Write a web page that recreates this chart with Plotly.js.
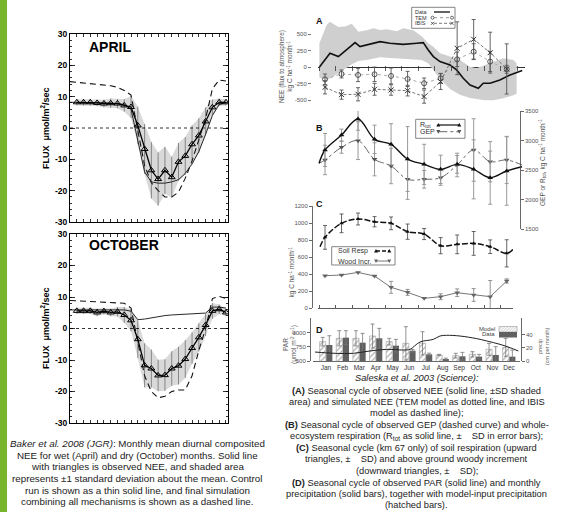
<!DOCTYPE html>
<html><head><meta charset="utf-8">
<script src="https://cdn.plot.ly/plotly-3.0.1.min.js"></script>
<style>html,body{margin:0;padding:0;background:#fff;}#chart{width:563px;height:512px;}</style>
</head><body><div id="chart"></div>
<script>
// ================= DATA =================
// Left panels (Baker et al. 2008): diurnal composite, hour of day
const obsHours   = [1,2,3,4,5,6,7,8,9,10,11,12,13,14,15,16,17,18,19,20,21,22,23];
const modelHours = [0,1,2,3,4,5,6,7,8,9,10,11,12,13,14,15,16,17,18,19,20,21,22,23];
const aprilObs     = [8.2,8.2,8.2,8.0,7.8,7.9,7.8,7.2,6.7,0.8,-6.7,-13.5,-16.3,-13.5,-15.7,-10.8,-8.9,-5.2,-2.4,2.1,6.6,8.2,8.2];
const aprilSd      = [1,1,1,1,1.2,1.5,1.5,2,3.5,6,8,9,8.5,7.5,6.5,6,6,6,5.5,4.5,2.5,1.2,1];
const aprilControl = [8.2,8.2,8.2,8.2,8.1,8.0,8.0,7.8,7.5,6.0,-4,-14,-17.2,-17.6,-17.6,-17.2,-16.5,-14.5,-11.5,-7.5,-2,4,7.5,8.2];
const aprilFinal   = [14.8,14.6,14.4,14.2,14.0,13.8,13.5,13.0,12.0,10.5,-1,-12,-17.5,-20,-22,-22,-20.5,-16,-10.5,-4,3,12.5,15.3,15.0];
const octObs       = [5.6,5.6,5.6,5.1,5.5,5.1,5.3,4.3,2.6,-3.4,-11.7,-12.7,-14.9,-14.8,-12.7,-11.8,-9.7,-6.2,-2.8,1.1,5.6,6.1,5.1];
const octSd        = [1,1,1,1.2,1,1.2,1.5,2.5,3.5,6,7,6,5,5,5.5,6,6,5,4.5,3.5,2.5,1.5,1.2];
const octControl   = [5.9,5.9,5.9,5.9,5.9,5.9,5.9,5.9,5.9,5.5,2.8,3.0,3.4,3.8,4.1,4.3,4.4,4.5,4.6,4.7,4.9,6.8,6.8,6.5];
const octFinal     = [8.9,8.8,8.7,8.6,8.5,8.4,8.3,8.2,8.0,6.5,-4,-15,-20,-22,-21.5,-20,-19.5,-19.5,-15,-7,0,9.5,10.2,9.5];
const fluxTicks     = [-30,-20,-10,0,10,20,30];
const fluxTickText  = ['-30','-20','-10','0','10','20','30'];

// Right panels (Saleska et al. 2003): month of year
const months     = [1,2,3,4,5,6,7,8,9,10,11,12];
const monthNames = ['Jan','Feb','Mar','Apr','May','Jun','Jul','Aug','Sep','Oct','Nov','Dec'];
// (A) NEE
const neeX = [0.655,1.30,1.81,2.82,3.12,3.52,4.33,4.93,5.74,6.55,6.95,7.25,7.56,7.96,8.57,8.97,9.37,9.78,10.28,10.58,10.99,11.59,12.2,12.94];
const neeY = [0,212,162,374,313,338,389,364,348,364,374,263,162,86,35,-40,-167,-268,-318,-242,-242,-192,-116,-50];
const neeBandX     = [0.66,1.1,1.3,1.81,2.21,2.62,3.02,3.52,3.93,4.33,4.73,5.34,5.74,6.35,6.85,7.25,7.56,7.96,8.57,9.17,9.78,10.18,10.68,11.19,11.79,12.4,12.6];
const neeBandUpper = [364,640,690,610,620,660,540,560,590,566,576,545,590,560,470,364,313,212,162,111,10,-15,35,86,136,111,61];
const neeBandLower = [-160,-190,-170,-95,-25,45,95,111,130,151,145,136,130,121,112,60,-40,-175,-330,-415,-465,-485,-500,-500,-470,-425,-400];
const temY    = [-182,-101,-116,-106,-131,-177,-242,-167,121,237,86,-30];
const temErr  = [80,60,100,110,120,115,80,75,110,120,150,60];
const ibisY   = [-303,-414,-409,-333,-343,-354,-444,-217,288,424,222,-25];
const ibisErr = [100,70,100,90,80,80,100,120,400,300,310,380];
const neeTicks = [-500,-250,0,250,500];
const neeTickText = ['-500','-250','0','250','500'];
// (B) Rtot and GEP
const rtotY   = [2839,3093,3364,3020,2935,2686,2596,2511,2596,2511,2370,2483];
const rtotErr = [280,100,190,240,350,550,340,240,150,500,450,580];
const gepY    = [2670,2884,2997,2681,2568,2342,2342,2370,2585,2839,2641,2670];
const gepErr  = [250,100,320,280,300,340,150,130,200,530,340,400];
const bCurveStartX = 0.64, bCurveEndX = 12.93;
const rtotStart = 2613, rtotEnd = 2556, gepStart = 2613, gepEnd = 2585;
const bTicks = [1500,2000,2500,3000,3500];
// (C) soil respiration and wood increment
const soilY   = [831,996,1047,1015,996,898,870,733,749,760,721,643];
const soilErr = [140,110,70,60,75,90,65,95,110,140,80,160];
const soilStartX = 0.70, soilStart = 721, soilEndX = 12.38, soilEnd = 690;
const woodY   = [380,388,419,376,243,184,114,133,180,153,133,318];
const woodErr = [0,0,0,0,70,35,0,35,45,75,190,25];
const cTicks = [0,200,400,600,800,1000,1200];
// (D) bars (left axis) and line (right axis)
const modelBar = [838,897,897,937,838,809,809,605,593,617,704,739];
const modelErr = [75,133,133,210,58,291,203,11,41,46,104,157];
const dataBar  = [780,908,820,897,768,680,617,535,582,576,605,576];
const dataErr  = [162,122,163,174,110,20,20,15,69,40,145,116];
const parX = [0.34,1.54,2.64,3.64,4.65,5.65,6.05,6.65,7.45,7.85,8.25,9.05,10.06,10.66,11.46,12.06,12.56];
const parY = [13.8,11.8,11.8,15.4,17.9,16.9,18,29.2,33.3,38.4,39.5,38.4,34.4,30.8,25.6,20.5,15.4];
const dLeftTicks = [500,750,1000];
const dRightTicks = [0,20,40];

const leftCaption = [
  '<i>Baker et al. 2008 (JGR)</i>: Monthly mean diurnal composited',
  'NEE for wet (April) and dry (October) months. Solid line',
  'with triangles is observed NEE, and shaded area',
  'represents \u00b11 standard deviation about the mean. Control',
  'run is shown as a thin solid line, and final simulation',
  'combining all mechanisms is shown as a dashed line.'
];
const rightCaption = [
  '<i>Saleska et al. 2003 (Science):</i>',
  '<b>(A)</b> Seasonal cycle of observed NEE (solid line, \u00b1SD shaded',
  'area) and simulated NEE (TEM model as dotted line, and IBIS',
  'model as dashed line);',
  '<b>(B)</b> Seasonal cycle of observed GEP (dashed curve) and whole-',
  'ecosystem respiration (R<sub>tot</sub> as solid line, \u00b1\u00a0\u00a0\u00a0 SD in error bars);',
  '<b>(C)</b> Seasonal cycle (km 67 only) of soil respiration (upward',
  'triangles, \u00b1\u00a0\u00a0\u00a0 SD) and above ground woody increment',
  '(downward triangles, \u00b1\u00a0\u00a0\u00a0 SD);',
  '<b>(D)</b> Seasonal cycle of observed PAR (solid line) and monthly',
  'precipitation (solid bars), together with model-input precipitation',
  '(hatched bars).'
];

// ================= HELPERS =================
const W = 563, H = 512;
const FONT = 'Liberation Sans, Arial, Helvetica, sans-serif';
const fx = p => p / W;
const fy = p => 1 - p / H;
const dX = (a, b) => [fx(a), fx(b)];
const dY = (top, bot) => [fy(bot), fy(top)];

function lineS(x0, y0, x1, y1, color, width, dash) {
  return {type:'line', xref:'paper', yref:'paper', x0:fx(x0), y0:fy(y0), x1:fx(x1), y1:fy(y1),
          line:{color:color, width:width, dash:dash || 'solid'}};
}
function rectS(x0, y0, x1, y1, lc, lw, fill) {
  return {type:'rect', xref:'paper', yref:'paper', x0:fx(x0), y0:fy(y1), x1:fx(x1), y1:fy(y0),
          line:{color:lc, width:lw}, fillcolor: fill || 'rgba(0,0,0,0)'};
}
function circS(cx, cy, r, color) {
  return {type:'circle', xref:'paper', yref:'paper', x0:fx(cx-r), x1:fx(cx+r), y0:fy(cy+r), y1:fy(cy-r),
          line:{color:color, width:0.8}, fillcolor:'#fff'};
}
function crossS(cx, cy, r, color) {
  return [lineS(cx-r, cy-r, cx+r, cy+r, color, 0.8), lineS(cx-r, cy+r, cx+r, cy-r, color, 0.8)];
}
function triS(cx, cy, r, up, color) {
  const pts = up ? [[cx-r, cy+r*0.8], [cx+r, cy+r*0.8], [cx, cy-r]]
                 : [[cx-r, cy-r*0.8], [cx+r, cy-r*0.8], [cx, cy+r]];
  return {type:'path', xref:'paper', yref:'paper',
          path:'M' + pts.map(p => fx(p[0]) + ',' + fy(p[1])).join('L') + 'Z',
          fillcolor:color, line:{width:0}};
}
function txt(x, y, text, size, o) {
  o = o || {};
  return {xref:'paper', yref:'paper', x:fx(x), y:fy(y), text:text, showarrow:false,
          xanchor:o.xanchor || 'center', yanchor:o.yanchor || 'middle', textangle:o.angle || 0,
          align:o.align || 'center',
          font:{family:FONT, size:size, color:o.color || '#222', weight:o.weight || 'normal'}};
}

// ================= TRACES =================
const traces = [];
function leftPanel(xa, ya, obs, sd, control, finalSim) {
  const upper = obs.map((v, i) => v + sd[i]);
  const lower = obs.map((v, i) => v - sd[i]);
  traces.push({x:obsHours, y:lower, xaxis:xa, yaxis:ya, mode:'lines', line:{width:0, color:'rgba(0,0,0,0)'}});
  traces.push({x:obsHours, y:upper, xaxis:xa, yaxis:ya, mode:'lines', fill:'tonexty', fillcolor:'#d9d9d9',
               line:{width:0, color:'rgba(0,0,0,0)'}});
  traces.push({x:modelHours, y:control, xaxis:xa, yaxis:ya, mode:'lines', line:{color:'#111', width:0.9}});
  traces.push({x:modelHours, y:finalSim, xaxis:xa, yaxis:ya, mode:'lines', line:{color:'#111', width:1.1, dash:'6px,4px'}});
  traces.push({x:obsHours, y:obs, xaxis:xa, yaxis:ya, mode:'lines+markers',
               line:{color:'#000', width:1.3},
               marker:{symbol:'triangle-up-open', size:6, color:'#000', line:{width:1, color:'#000'}},
               error_y:{type:'data', array:sd, visible:true, color:'#333', thickness:0.5, width:0}});
}
leftPanel('x', 'y', aprilObs, aprilSd, aprilControl, aprilFinal);
leftPanel('x2', 'y2', octObs, octSd, octControl, octFinal);

// (A)
traces.push({x:neeBandX, y:neeBandLower, xaxis:'x3', yaxis:'y3', mode:'lines', line:{width:0, color:'rgba(0,0,0,0)'}});
traces.push({x:neeBandX, y:neeBandUpper, xaxis:'x3', yaxis:'y3', mode:'lines', fill:'tonexty', fillcolor:'#cfcfcf',
             line:{width:0, color:'rgba(0,0,0,0)'}});
traces.push({x:neeX, y:neeY, xaxis:'x3', yaxis:'y3', mode:'lines', line:{color:'#111', width:1.6}});
traces.push({x:months, y:temY, xaxis:'x3', yaxis:'y3', mode:'lines+markers', cliponaxis:false,
             line:{color:'#aaa', width:1, dash:'dot'},
             marker:{symbol:'circle-open', size:5, color:'#444', line:{width:0.9}},
             error_y:{type:'data', array:temErr, visible:true, color:'#555', thickness:0.9, width:2}});
traces.push({x:months, y:ibisY, xaxis:'x3', yaxis:'y3', mode:'lines+markers', cliponaxis:false,
             line:{color:'#555', width:0.8, dash:'3px,2px'},
             marker:{symbol:'x-thin', size:5, color:'#333', line:{width:1, color:'#333'}},
             error_y:{type:'data', array:ibisErr, visible:true, color:'#555', thickness:0.9, width:2}});

// (B)
traces.push({x:[bCurveStartX].concat(months, [bCurveEndX]), y:[gepStart].concat(gepY, [gepEnd]),
             xaxis:'x4', yaxis:'y4', mode:'lines', line:{color:'#666', width:1, dash:'dashdot', shape:'spline'}});
traces.push({x:[bCurveStartX].concat(months, [bCurveEndX]), y:[rtotStart].concat(rtotY, [rtotEnd]),
             xaxis:'x4', yaxis:'y4', mode:'lines', line:{color:'#111', width:1.4, shape:'spline'}});
traces.push({x:months, y:gepY, xaxis:'x4', yaxis:'y4', mode:'markers', cliponaxis:false,
             marker:{symbol:'triangle-down', size:5, color:'#555'},
             error_y:{type:'data', array:gepErr, visible:true, color:'#999', thickness:1, width:2}});
traces.push({x:months, y:rtotY, xaxis:'x4', yaxis:'y4', mode:'markers', cliponaxis:false,
             marker:{symbol:'triangle-up', size:5, color:'#111'},
             error_y:{type:'data', array:rtotErr, visible:true, color:'#999', thickness:1, width:2}});

// (C)
traces.push({x:[soilStartX].concat(months, [soilEndX]), y:[soilStart].concat(soilY, [soilEnd]),
             xaxis:'x5', yaxis:'y5', mode:'lines', line:{color:'#111', width:1.5, dash:'6px,2px', shape:'spline'}});
traces.push({x:months, y:soilY, xaxis:'x5', yaxis:'y5', mode:'markers', cliponaxis:false,
             marker:{symbol:'triangle-up', size:4, color:'#111'},
             error_y:{type:'data', array:soilErr, visible:true, color:'#555', thickness:0.9, width:2}});
traces.push({x:months, y:woodY, xaxis:'x5', yaxis:'y5', mode:'lines+markers', cliponaxis:false,
             line:{color:'#777', width:1},
             marker:{symbol:'triangle-down', size:5, color:'#666'},
             error_y:{type:'data', array:woodErr, visible:true, color:'#888', thickness:0.9, width:2}});

// (D)
traces.push({type:'bar', x:months, y:modelBar, xaxis:'x6', yaxis:'y6',
             marker:{color:'#fff', line:{color:'#999', width:0.6},
                     pattern:{shape:'/', fgcolor:'#999', bgcolor:'#fff', size:4, solidity:0.25}},
             error_y:{type:'data', array:modelErr, visible:true, color:'#777', thickness:0.8, width:2}});
traces.push({type:'bar', x:months, y:dataBar, xaxis:'x6', yaxis:'y6',
             marker:{color:'#606060', line:{width:0}},
             error_y:{type:'data', array:dataErr, visible:true, color:'#777', thickness:0.8, width:2}});
traces.push({x:parX, y:parY, xaxis:'x6', yaxis:'y7', mode:'lines', line:{color:'#222', width:1, shape:'spline'}});

traces.forEach(t => { t.showlegend = false; t.hoverinfo = 'skip'; });

// ================= LAYOUT =================
const tickFontL = {family:FONT, size:8.5, color:'#000', weight:'bold'};
const tickFontR = {family:FONT, size:6, color:'#555'};
function leftX(dom, anchor) {
  return {domain:dom, anchor:anchor, range:[0, 23.3], showline:true, linecolor:'#000', linewidth:1, mirror:'ticks',
          ticks:'inside', ticklen:3, tickcolor:'#000', tickwidth:0.8, tick0:0, dtick:1,
          showticklabels:false, showgrid:false, zeroline:false};
}
function leftY(dom, anchor) {
  return {domain:dom, anchor:anchor, range:[-30, 30], showline:true, linecolor:'#000', linewidth:1, mirror:'ticks',
          ticks:'inside', ticklen:5, tickcolor:'#000', tickwidth:0.8, tickmode:'array',
          tickvals:fluxTicks, ticktext:fluxTickText, tickfont:tickFontL,
          minor:{tickmode:'linear', tick0:0, dtick:2, ticks:'inside', ticklen:2, tickcolor:'#000'},
          showgrid:false, zeroline:false};
}

const shapes = [
  {type:'rect', xref:'paper', yref:'paper', x0:0, x1:fx(7), y0:0, y1:1, fillcolor:'#77b52c', line:{width:0}},
  {type:'line', xref:'x domain', yref:'y', x0:0, x1:1, y0:0, y1:0, line:{color:'#000', width:0.8, dash:'dot'}},
  {type:'line', xref:'x2 domain', yref:'y2', x0:0, x1:1, y0:0, y1:0, line:{color:'#000', width:0.8, dash:'dot'}}
];
// legend A
shapes.push(rectS(411.7, 7.3, 455, 28.3, '#666', 0.8));
shapes.push(lineS(434, 12, 450, 12, '#111', 1.3));
shapes.push(lineS(434, 17.7, 451, 17.7, '#999', 1, 'dot'));
shapes.push(circS(432.5, 17.7, 1.5, '#444'), circS(452, 17.7, 1.5, '#444'));
shapes.push(lineS(434, 23.3, 451, 23.3, '#555', 0.8, '3px,2px'));
shapes.push(...crossS(432.5, 23.3, 1.5, '#333'), ...crossS(452, 23.3, 1.5, '#333'));
// legend B
shapes.push(rectS(415.7, 119.3, 465, 138.3, '#666', 0.8));
shapes.push(lineS(438.3, 125, 459.3, 125, '#111', 1.2));
shapes.push(triS(438.3, 125, 2, true, '#111'), triS(459.3, 125, 2, true, '#111'));
shapes.push(lineS(438.3, 131.7, 459.3, 131.7, '#666', 1, 'dashdot'));
shapes.push(triS(438.3, 131.7, 2, false, '#555'), triS(459.3, 131.7, 2, false, '#555'));
// legend C
shapes.push(rectS(331.7, 246.7, 395, 265, '#666', 0.8));
shapes.push(lineS(376, 251, 389.3, 251, '#111', 1.3, '4px,2px'));
shapes.push(triS(376, 251, 2, true, '#111'), triS(389.3, 251, 2, true, '#111'));
shapes.push(lineS(376, 261, 389.3, 261, '#777', 1));
shapes.push(triS(376, 261, 2, false, '#666'), triS(389.3, 261, 2, false, '#666'));
// legend D (hatched + solid swatches)
(function () {
  const x0 = 499, x1 = 517, top = 326.5, bot = 332;
  shapes.push(rectS(x0, top, x1, bot, '#999', 0.6, '#fff'));
  const h = bot - top;
  for (let s = x0 - h; s < x1; s += 3) {
    let ax = s, ay = bot, bx = s + h, by = top;
    if (ax < x0) { ay = bot - (x0 - ax); ax = x0; }
    if (bx > x1) { by = top + (bx - x1); bx = x1; }
    if (bx > ax) shapes.push(lineS(ax, ay, bx, by, '#999', 0.6));
  }
  shapes.push(rectS(x0, 332, x1, 337.5, '#606060', 0, '#606060'));
})();

const annotations = [
  txt(87, 46.5, 'APRIL', 14, {xanchor:'left', color:'#000', weight:'bold'}),
  txt(87, 245, 'OCTOBER', 14, {xanchor:'left', color:'#000', weight:'bold'}),
  txt(45, 128, 'FLUX\u00a0\u00a0\u03bcmol/m<sup>2</sup>/sec', 9, {angle:-90, color:'#000', weight:'bold'}),
  txt(45, 328, 'FLUX\u00a0\u00a0\u03bcmol/m<sup>2</sup>/sec', 9, {angle:-90, color:'#000', weight:'bold'}),
  txt(319, 21, 'A', 9, {color:'#111', weight:'bold'}),
  txt(319, 128, 'B', 9, {color:'#111', weight:'bold'}),
  txt(319.5, 204, 'C', 9, {color:'#111', weight:'bold'}),
  txt(319.5, 330, 'D', 9, {color:'#111', weight:'bold'}),
  txt(286, 67, 'NEE (flux to atmosphere)<br>kg C ha<sup>-1</sup> month<sup>-1</sup>', 6.5, {angle:-90, color:'#555'}),
  txt(542, 163, 'GEP or R<sub>tot</sub>, kg C ha<sup>-1</sup> month<sup>-1</sup>', 6.5, {angle:-90, color:'#555'}),
  txt(291.5, 272, 'kg C ha<sup>-1</sup> month<sup>-1</sup>', 6.5, {angle:-90, color:'#555'}),
  txt(290, 345, 'PAR<br>(\u03bcmol m<sup>-2</sup> s<sup>-1</sup>)', 6.5, {angle:-90, color:'#555'}),
  txt(543, 347, 'precip<br>(cm per month)', 5.5, {angle:-90, color:'#666'}),
  // legends text
  txt(413.3, 12, 'Data', 5.5, {xanchor:'left', color:'#333'}),
  txt(413.3, 17.7, 'TEM', 5.5, {xanchor:'left', color:'#333'}),
  txt(413.3, 23.3, 'IBIS', 5.5, {xanchor:'left', color:'#333'}),
  txt(418.3, 125, 'R<sub>tot</sub>', 7, {xanchor:'left', color:'#333'}),
  txt(418.3, 131.7, 'GEP', 7, {xanchor:'left', color:'#333'}),
  txt(335.5, 251, 'Soil Resp', 7, {xanchor:'left', color:'#333'}),
  txt(335.5, 261, 'Wood Incr.', 7, {xanchor:'left', color:'#333'}),
  txt(497, 329, 'Model', 6, {xanchor:'right', color:'#444'}),
  txt(497, 334.3, 'Data', 6, {xanchor:'right', color:'#444'})
];
const leftCapY = [443.3, 455, 466.7, 478.3, 490, 501.7];
leftCaption.forEach((t, i) => annotations.push(txt(137, leftCapY[i], t, 9.8, {color:'#222'})));
const rightCapY = [378.3, 390.7, 402.3, 413.3, 425, 436.7, 447.7, 459.3, 470.7, 482.7, 494, 505];
rightCaption.forEach((t, i) => annotations.push(txt(416.7, rightCapY[i], t, 9.3, {color:'#222'})));

const layout = {
  width:W, height:H, margin:{l:0, r:0, t:0, b:0, pad:0},
  paper_bgcolor:'#fff', plot_bgcolor:'rgba(0,0,0,0)',
  showlegend:false, hovermode:false,
  barmode:'group', bargap:0.2, bargroupgap:0.08,
  font:{family:FONT},
  xaxis: leftX(dX(70, 228), 'y'),
  yaxis: leftY(dY(34, 222), 'x'),
  xaxis2: leftX(dX(70, 228), 'y2'),
  yaxis2: leftY(dY(234, 423), 'x2'),
  // A
  xaxis3: {domain:dX(318, 525), range:[0.576, 13.108], anchor:'free', position:fy(65), side:'bottom',
           showline:false, ticks:'outside', ticklen:5, tickcolor:'#333', tickwidth:0.8, tick0:0.65, dtick:1,
           showticklabels:false, showgrid:false, zeroline:false},
  yaxis3: {domain:dY(18, 110), range:[-647, 747], anchor:'free', position:fx(311), showline:false,
           ticks:'outside', ticklen:3, tickcolor:'#555', tickwidth:0.8, tickmode:'array', tickvals:neeTicks,
           ticktext:neeTickText, tickfont:tickFontR, showgrid:false,
           zeroline:true, zerolinecolor:'#333', zerolinewidth:1},
  // B
  xaxis4: {domain:dX(318, 525), range:[0.576, 13.108], anchor:'y4', visible:false},
  yaxis4: {domain:dY(111, 229), range:[1500, 3500], side:'right', anchor:'free', position:fx(520),
           showline:true, linecolor:'#444', linewidth:0.8, ticks:'outside', ticklen:3, tickcolor:'#444',
           tickwidth:0.8, tickmode:'array', tickvals:bTicks, tickfont:tickFontR, showgrid:false, zeroline:false},
  // C
  xaxis5: {domain:dX(318, 513), range:[0.576, 12.38], anchor:'y5', showline:true, linecolor:'#333', linewidth:0.8,
           ticks:'inside', ticklen:3, tickcolor:'#333', tickwidth:0.8, tick0:0.65, dtick:1,
           showticklabels:false, showgrid:false, zeroline:false},
  yaxis5: {domain:dY(206, 308), range:[0, 1200], anchor:'free', position:fx(312), showline:true,
           linecolor:'#444', linewidth:0.8, ticks:'outside', ticklen:3, tickcolor:'#444', tickwidth:0.8,
           tickmode:'array', tickvals:cTicks, tickfont:tickFontR, showgrid:false, zeroline:false},
  // D
  xaxis6: {domain:dX(313, 520), range:[0.219, 12.66], anchor:'y6', showline:true, linecolor:'#444', linewidth:0.8,
           ticks:'', tickmode:'array', tickvals:months, ticktext:monthNames,
           tickfont:{family:FONT, size:6.5, color:'#333'}, showgrid:false, zeroline:false},
  yaxis6: {domain:dY(318, 361), range:[500, 1252], anchor:'free', position:fx(310), showline:true,
           linecolor:'#444', linewidth:0.8, ticks:'outside', ticklen:3, tickcolor:'#444', tickwidth:0.8,
           tickmode:'array', tickvals:dLeftTicks, tickfont:tickFontR, showgrid:false, zeroline:false},
  yaxis7: {overlaying:'y6', side:'right', anchor:'free', position:fx(521), range:[0, 66.1], showline:true,
           linecolor:'#444', linewidth:0.8, ticks:'outside', ticklen:3, tickcolor:'#444', tickwidth:0.8,
           tickmode:'array', tickvals:dRightTicks, tickfont:tickFontR, showgrid:false, zeroline:false},
  shapes:shapes,
  annotations:annotations
};

Plotly.newPlot('chart', traces, layout, {staticPlot:true, displayModeBar:false});
</script>
</body></html>
